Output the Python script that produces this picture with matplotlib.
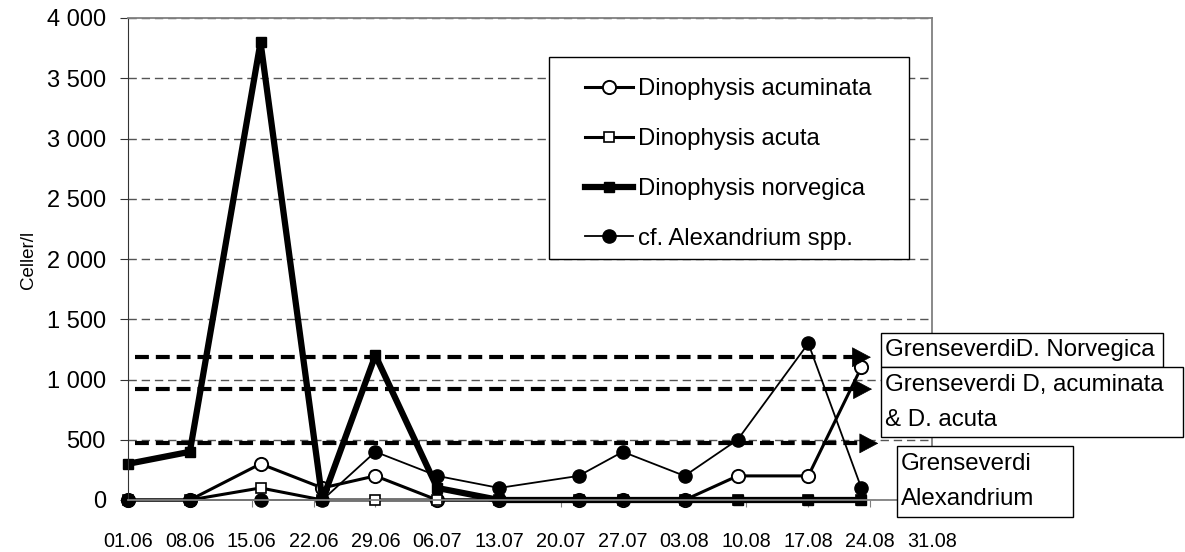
import pandas as pd
import matplotlib
matplotlib.use('Agg')
import matplotlib.pyplot as plt
import matplotlib.dates as mdates
from matplotlib.patches import Rectangle
from matplotlib.lines import Line2D

plt.rcParams['font.family'] = ['Liberation Sans', 'DejaVu Sans']
plt.rcParams['lines.scale_dashes'] = False

# sampling dates (dd.mm) and cell counts per litre
sample_dates = ['01.06', '08.06', '16.06', '23.06', '29.06', '06.07', '13.07',
                '22.07', '27.07', '03.08', '09.08', '17.08', '23.08']
acuminata = [0, 0, 300, 100, 200, 0, 0, 0, 0, 0, 200, 200, 1100]
acuta = [0, 0, 100, 0, 0, 0, 0, 0, 0, 0, 0, 0, 0]
norvegica = [300, 400, 3800, 0, 1200, 100, 0, 0, 0, 0, 0, 0, 0]
alexandrium = [0, 0, 0, 0, 400, 200, 100, 200, 400, 200, 500, 1300, 100]

labels = ['Dinophysis acuminata', 'Dinophysis acuta',
          'Dinophysis norvegica', 'cf. Alexandrium spp.']

# threshold arrows (limit value, start date, arrow tip date)
limits = [1185, 920, 470]
limit_start = ['01.06', '01.06', '01.06']
limit_tip = ['24.08', '24.08', '24.08']
limit_tip_hours = [2, 5, 22]
limit_start_hours = [19, 19, 19]

YEAR = '2003'


def to_date(s):
    return pd.to_datetime(s + '.' + YEAR, format='%d.%m.%Y')


x = [to_date(d) for d in sample_dates]

W, H = 1185, 552
fig = plt.figure(figsize=(W / 100, H / 100), dpi=100)
ax = fig.add_axes([128 / W, 1 - 500 / H, (932 - 128) / W, (500 - 18) / H])

# series, drawn in Excel order
ax.plot(x, acuminata, color='black', lw=2.2, marker='o', ms=9.5,
        mfc='white', mec='black', mew=1.4, clip_on=False)
ax.plot(x, acuta, color='black', lw=2.2, marker='s', ms=7,
        mfc='white', mec='black', mew=1.2, clip_on=False)
ax.plot(x, norvegica, color='black', lw=4.5, marker='s', ms=7.5,
        mfc='black', mec='black', clip_on=False)
ax.plot(x, alexandrium, color='black', lw=1.3, marker='o', ms=9.5,
        mfc='black', mec='black', clip_on=False)

# threshold lines with arrow heads
for val, s, t, th, sh in zip(limits, limit_start, limit_tip,
                             limit_tip_hours, limit_start_hours):
    x0 = to_date(s) + pd.Timedelta(hours=sh)
    x1 = to_date(t) + pd.Timedelta(hours=th)
    xb = x1 - pd.Timedelta(hours=40)
    ax.plot([x0, xb], [val, val], color='black', lw=3,
            linestyle=(0, (10, 5)), solid_capstyle='butt', dash_capstyle='butt')
    ax.annotate('', xy=(x1, val), xytext=(xb, val),
                arrowprops=dict(arrowstyle='-|>,head_length=0.75,head_width=0.4',
                                color='black', lw=0.5, shrinkA=0, shrinkB=0,
                                mutation_scale=17))

ax.set_xlim(to_date('01.06'), to_date('31.08'))
ax.set_ylim(0, 4000)
ticks = pd.date_range(to_date('01.06'), to_date('31.08'), freq='7D')
ax.set_xticks(ticks)
ax.xaxis.set_major_formatter(mdates.DateFormatter('%d.%m'))
ax.set_yticks(range(0, 4001, 500))
ax.yaxis.set_major_formatter(plt.FuncFormatter(lambda v, p: f'{int(v):,}'.replace(',', ' ')))

ax.tick_params(axis='x', labelsize=14.3, length=5, pad=18, color='#808080')
ax.tick_params(axis='y', labelsize=17, length=6, pad=10, color='#333333')
ax.grid(axis='y', color='#555555', lw=1, linestyle=(0, (6, 3.5)))
ax.set_axisbelow(True)
for side in ['top', 'right', 'bottom']:
    ax.spines[side].set_color('#808080')
    ax.spines[side].set_linewidth(1.3)
ax.spines['left'].set_color('#333333')

fig.text(28 / W, 1 - 260 / H, 'Celler/l', rotation=90, ha='center',
         va='center', fontsize=13.5)

# legend with its own frame
fig.add_artist(Rectangle((549 / W, 1 - 259 / H), (909 - 549) / W, (259 - 57) / H,
                         transform=fig.transFigure, facecolor='white',
                         edgecolor='black', lw=1, zorder=5))
handles = [
    Line2D([], [], color='black', lw=2.2, marker='o', ms=9.5, mfc='white', mew=1.4),
    Line2D([], [], color='black', lw=2.2, marker='s', ms=7, mfc='white', mew=1.2),
    Line2D([], [], color='black', lw=4.5, marker='s', ms=7.5, mfc='black'),
    Line2D([], [], color='black', lw=1.3, marker='o', ms=9.5, mfc='black'),
]
leg = fig.legend(handles, labels, loc='upper left',
                 bbox_to_anchor=(585 / W, 1 - 78 / H), frameon=False,
                 fontsize=17.2, handlelength=2.0, handletextpad=0.2,
                 labelspacing=1.17, borderpad=0, borderaxespad=0, numpoints=1)
leg.set_zorder(6)

# limit value boxes
boxes = [
    (881, 333, 1163, 367, ['GrenseverdiD. Norvegica'], 885),
    (881, 367, 1183, 437, ['Grenseverdi D, acuminata', '& D. acuta'], 885),
    (897, 446, 1073, 517, ['Grenseverdi', 'Alexandrium'], 901),
]
for x0, y0, x1, y1, lines, tx in boxes:
    fig.add_artist(Rectangle((x0 / W, 1 - y1 / H), (x1 - x0) / W, (y1 - y0) / H,
                             transform=fig.transFigure, facecolor='white',
                             edgecolor='black', lw=1, zorder=5))
    n = len(lines)
    step = (y1 - y0) / n
    for i, t in enumerate(lines):
        fig.text(tx / W, 1 - (y0 + step * (i + 0.5)) / H, t, ha='left',
                 va='center', fontsize=17.3, zorder=6)

fig.savefig('out.png', dpi=100)
